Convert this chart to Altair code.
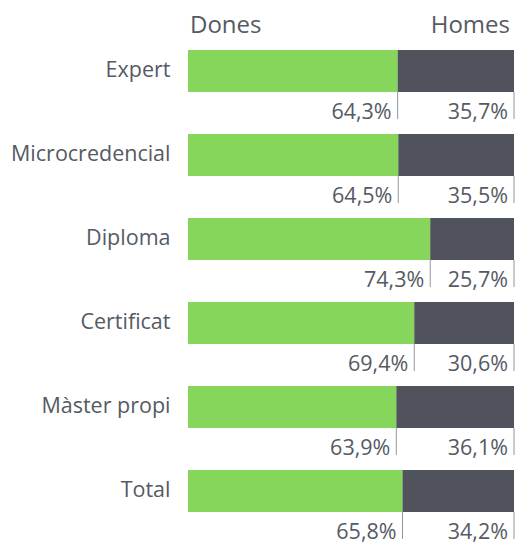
import altair as alt
import pandas as pd

categories = ["Expert", "Microcredencial", "Diploma", "Certificat", "Màster propi", "Total"]
dones = [64.3, 64.5, 74.3, 69.4, 63.9, 65.8]
homes = [35.7, 35.5, 25.7, 30.6, 36.1, 34.2]
headers = ["Dones", "Homes"]

FONT = "Open Sans"
TXT = "#555a64"
GREEN = "#85d65b"
GRAY = "#50535b"

def fmt(v):
    return f"{v:.1f}".replace(".", ",") + "%"

df = pd.DataFrame({
    "cat": categories,
    "dones": dones,
    "homes": homes,
})
df["start"] = 0
df["end"] = df["dones"] + df["homes"]
df["dlab"] = [fmt(v) for v in dones]
df["hlab"] = [fmt(v) for v in homes]

xs = alt.Scale(domain=[0, 100], nice=False, zero=True)
ys = alt.Scale(paddingInner=0, paddingOuter=0)
Y = alt.Y("cat:N", sort=categories, scale=ys, title=None,
          axis=alt.Axis(domain=False, ticks=False, labelFont=FONT, labelFontSize=21.5,
                        labelColor=TXT, labelPadding=18))

base = alt.Chart(df)

bar_d = base.mark_bar(size=42, color=GREEN).encode(
    x=alt.X("start:Q", scale=xs, axis=None), x2="dones:Q", y=Y)
bar_h = base.mark_bar(size=42, color=GRAY).encode(
    x=alt.X("dones:Q", scale=xs, axis=None), x2="end:Q", y=Y)

tick_d = base.mark_tick(orient="vertical", size=27, thickness=1, color="#666a72", yOffset=34.5).encode(
    x=alt.X("dones:Q", scale=xs, axis=None), y=Y)
tick_h = base.mark_tick(orient="vertical", size=27, thickness=1, color="#666a72", yOffset=34.5).encode(
    x=alt.X("end:Q", scale=xs, axis=None), y=Y)

lab_d = base.mark_text(align="right", baseline="alphabetic", dx=-6, dy=48, font=FONT,
                       fontSize=21.5, color=TXT).encode(
    x=alt.X("dones:Q", scale=xs, axis=None), y=Y, text="dlab:N")
lab_h = base.mark_text(align="right", baseline="alphabetic", dx=-6, dy=48, font=FONT,
                       fontSize=21.5, color=TXT).encode(
    x=alt.X("end:Q", scale=xs, axis=None), y=Y, text="hlab:N")

hdf = pd.DataFrame({"label": headers, "x": [0, 100], "cat": [categories[0]] * 2})
hd = alt.Chart(hdf[hdf.label == headers[0]]).mark_text(
    align="left", baseline="alphabetic", dx=2, dy=-38, font=FONT, fontSize=24, color=TXT
).encode(x=alt.X("x:Q", scale=xs, axis=None), y=Y, text="label:N")
hh = alt.Chart(hdf[hdf.label == headers[1]]).mark_text(
    align="right", baseline="alphabetic", dx=-4, dy=-38, font=FONT, fontSize=24, color=TXT
).encode(x=alt.X("x:Q", scale=xs, axis=None), y=Y, text="label:N")

chart = alt.layer(bar_d, bar_h, tick_d, tick_h, lab_d, lab_h, hd, hh).properties(
    width=326, height=504,
    autosize=alt.AutoSizeParams(type="none"),
    padding={"left": 180, "top": 21, "right": 1, "bottom": 11},
).configure_view(stroke=None)

chart.save("out.html", embed_options={"renderer": "svg", "actions": False})
